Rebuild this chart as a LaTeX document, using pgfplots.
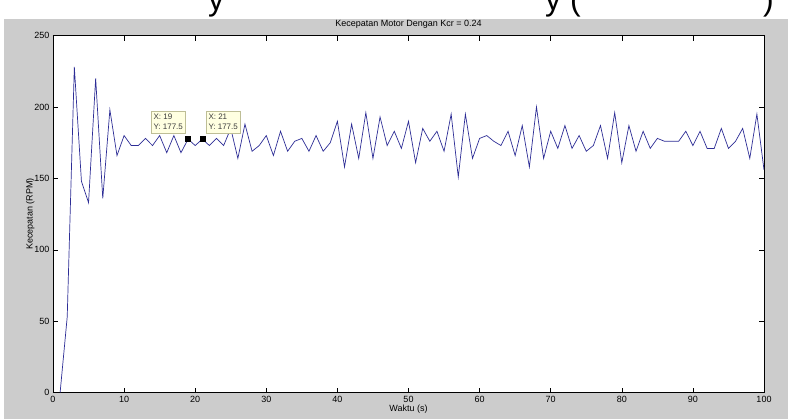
\documentclass[border=0pt]{standalone}
\usepackage{fontspec}
\setmainfont{Liberation Sans}
\usepackage{pgfplots}
\pgfplotsset{compat=1.18}

\definecolor{figgray}{RGB}{204,204,204}
\definecolor{linecol}{RGB}{45,45,150}
\definecolor{tipfill}{RGB}{255,255,225}
\definecolor{tipborder}{RGB}{190,190,150}
\definecolor{tiptext}{RGB}{60,60,60}

\begin{document}
\begin{tikzpicture}
\useasboundingbox (0pt,0pt) rectangle (788pt,419pt);
\fill[white] (0pt,0pt) rectangle (788pt,419pt);
\fill[figgray] (4pt,0pt) rectangle (788pt,400pt);
% remains of page text cut off at the top of the screenshot
\begin{scope}
\clip (4pt,400pt) rectangle (788pt,419pt);
\node[anchor=base west,inner sep=0,font=\fontsize{32}{32}\selectfont] at (208pt,408pt) {y};
\node[anchor=base west,inner sep=0,font=\fontsize{32}{32}\selectfont] at (545pt,408pt) {y (};
\node[anchor=base west,inner sep=0,font=\fontsize{32}{32}\selectfont] at (763pt,408pt) {)};
\end{scope}

\begin{axis}[
    at={(53pt,26.4pt)}, anchor=south west,
    width=711pt, height=357pt, scale only axis,
    xmin=0, xmax=100, ymin=0, ymax=250,
    xtick={0,10,...,100}, ytick={0,50,...,250},
    tick align=inside, major tick length=5pt,
    axis background/.style={fill=white},
    axis line style={black, line width=0.6pt},
    every tick/.style={black, line width=0.5pt},
    /pgf/number format/assume math mode=true,
    tick label style={font=\fontsize{9}{10}\selectfont},
    every axis title/.style={at={(0.5,1)}, anchor=center, yshift=11.7pt,
        font=\fontsize{9}{10}\selectfont},
    title={Kecepatan Motor Dengan Kcr = 0.24},
    xlabel={Waktu (s)},
    xlabel style={at={(axis description cs:0.5,-0.046)}, anchor=center, font=\fontsize{9}{10}\selectfont},
    ylabel={Kecepatan (RPM)},
    ylabel style={at={(axis description cs:-0.032,0.5)}, anchor=center, font=\fontsize{9}{10}\selectfont},
]
\addplot[linecol, line width=0.7pt, mark=none] coordinates {
(1,0)(2,53)(3,228)(4,148)(5,133)(6,220)(7,136)(8,198)(9,166)(10,180)
(11,173)(12,173)(13,178)(14,173)(15,180)(16,168)(17,180)(18,168)(19,177.5)(20,173)
(21,177.5)(22,173)(23,178)(24,173)(25,185)(26,164)(27,188)(28,169)(29,173)(30,180)
(31,166)(32,183)(33,169)(34,176)(35,178)(36,169)(37,180)(38,169)(39,175)(40,190)
(41,158)(42,188)(43,164)(44,196)(45,164)(46,193)(47,173)(48,183)(49,171)(50,190)
(51,161)(52,185)(53,176)(54,183)(55,169)(56,195)(57,151)(58,195)(59,164)(60,178)
(61,180)(62,176)(63,173)(64,183)(65,166)(66,187)(67,158)(68,200)(69,164)(70,183)
(71,171)(72,187)(73,171)(74,180)(75,169)(76,173)(77,187)(78,164)(79,196)(80,161)
(81,187)(82,169)(83,183)(84,171)(85,178)(86,176)(87,176)(88,176)(89,183)(90,173)
(91,183)(92,171)(93,171)(94,185)(95,171)(96,176)(97,185)(98,164)(99,195)(100,156)};
\addplot[only marks, mark=square*, mark size=2.5pt, black] coordinates {(19,177.5)(21,177.5)};
\node[draw=tipborder, fill=tipfill, text=tiptext, anchor=south east, align=left,
      inner xsep=2pt, inner ysep=3pt,
      font=\fontsize{8}{10.5}\selectfont, xshift=-3pt, yshift=6pt] at (axis cs:19,177.5) {X: 19\\Y: 177.5};
\node[draw=tipborder, fill=tipfill, text=tiptext, anchor=south west, align=left,
      inner xsep=2pt, inner ysep=3pt,
      font=\fontsize{8}{10.5}\selectfont, xshift=4pt, yshift=6pt] at (axis cs:21,177.5) {X: 21\\Y: 177.5};
\end{axis}
\end{tikzpicture}
\end{document}
